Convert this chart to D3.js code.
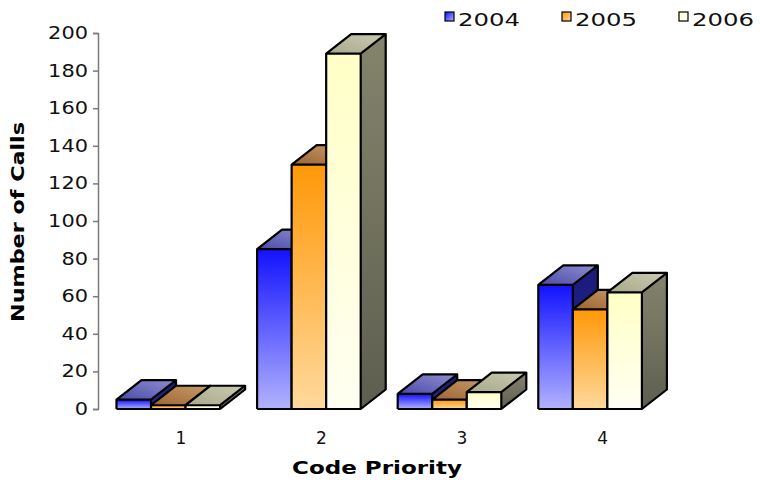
<!DOCTYPE html>
<html>
<head>
<meta charset="utf-8">
<script src="https://cdn.jsdelivr.net/npm/d3@7"></script>
<style>
  html, body { margin: 0; padding: 0; background: #fff; }
  svg { display: block; font-family: "DejaVu Sans", Verdana, sans-serif; }
</style>
</head>
<body>
<svg id="chart" width="760" height="480"></svg>
<script>
// Calls per code priority, by year
const categories = ["1", "2", "3", "4"];
const seriesNames = ["2004", "2005", "2006"];
const values2004 = [5, 85, 8, 66];
const values2005 = [2, 130, 5, 53];
const values2006 = [2, 189, 9, 62];
const yTickValues = [0, 20, 40, 60, 80, 100, 120, 140, 160, 180, 200];

const seriesValues = [values2004, values2005, values2006];

// Face colours for each series: front, top and side faces of the 3-D columns
const palette = [
  { front: ["#1212ff", "#b2b2ff"], top: ["#4a4aa8", "#8e8ed0"], side: ["#1a1a7a", "#2a2a9a"] },
  { front: ["#ff9808", "#ffd99c"], top: ["#9c6430", "#c89c6c"], side: ["#a85c10", "#c07c3c"] },
  { front: ["#ffffc6", "#fffff2"], top: ["#a8a88a", "#cacab2"], side: ["#84846c", "#5e5e50"] }
];

const svg = d3.select("#chart");
const defs = svg.append("defs");

// Oblique depth offset of the columns
const depthX = 25, depthY = -19.5;

const y = d3.scaleLinear().domain([0, 200]).range([409, 33]);
const x = d3.scaleBand().domain(categories).range([98, 660.4])
  .paddingInner(0.263).paddingOuter(0.1315);
const xs = d3.scaleBand().domain(seriesNames).range([0, x.bandwidth()]);

palette.forEach((p, i) => {
  const gf = defs.append("linearGradient").attr("id", "front" + i)
    .attr("x1", 0).attr("y1", 0).attr("x2", 0).attr("y2", 1);
  gf.append("stop").attr("offset", 0).attr("stop-color", p.front[0]);
  gf.append("stop").attr("offset", 1).attr("stop-color", p.front[1]);
  const gt = defs.append("linearGradient").attr("id", "top" + i)
    .attr("x1", 0).attr("y1", 1).attr("x2", 1).attr("y2", 0);
  gt.append("stop").attr("offset", 0).attr("stop-color", p.top[0]);
  gt.append("stop").attr("offset", 1).attr("stop-color", p.top[1]);
  const gs = defs.append("linearGradient").attr("id", "side" + i)
    .attr("x1", 0).attr("y1", 0).attr("x2", 0).attr("y2", 1);
  gs.append("stop").attr("offset", 0).attr("stop-color", p.side[0]);
  gs.append("stop").attr("offset", 1).attr("stop-color", p.side[1]);
  const gl = defs.append("linearGradient").attr("id", "legend" + i)
    .attr("x1", 0).attr("y1", 0).attr("x2", 1).attr("y2", 1);
  gl.append("stop").attr("offset", 0).attr("stop-color", p.front[0]);
  gl.append("stop").attr("offset", 1).attr("stop-color", p.front[1]);
});

// Value axis
const yAxis = d3.axisLeft(y).tickValues(yTickValues).tickSize(5).tickPadding(5);
const gy = svg.append("g").attr("transform", "translate(98,0)").call(yAxis);
gy.select(".domain").attr("stroke", "#7a7a7a").attr("stroke-width", 1.5);
gy.selectAll(".tick line").attr("stroke", "#7a7a7a").attr("stroke-width", 1.5);
gy.selectAll(".tick text")
  .attr("fill", "#111").attr("font-size", 17)
  .attr("font-family", "DejaVu Sans, Verdana, sans-serif")
  .each(function () {
    const t = d3.select(this);
    const n = t.text().length;
    t.attr("textLength", n * 13.3).attr("lengthAdjust", "spacingAndGlyphs");
  });

// Columns, drawn category by category, left to right so nearer faces overlap
const bars = svg.append("g");
categories.forEach((c, ci) => {
  seriesNames.forEach((s, si) => {
    const v = seriesValues[si][ci];
    const x0 = x(c) + xs(s);
    const x1 = x0 + xs.bandwidth();
    const yt = y(v), yb = y(0);
    const g = bars.append("g");
    const line = d3.line();
    // right side face
    g.append("path")
      .attr("d", line([[x1, yt], [x1 + depthX, yt + depthY], [x1 + depthX, yb + depthY], [x1, yb]]) + "Z")
      .attr("fill", `url(#side${si})`);
    // top face
    g.append("path")
      .attr("d", line([[x0, yt], [x0 + depthX, yt + depthY], [x1 + depthX, yt + depthY], [x1, yt]]) + "Z")
      .attr("fill", `url(#top${si})`);
    // front face
    g.append("rect")
      .attr("x", x0).attr("y", yt).attr("width", x1 - x0).attr("height", yb - yt)
      .attr("fill", `url(#front${si})`);
    // outlines
    g.append("path")
      .attr("d",
        line([[x0, yb], [x0, yt], [x0 + depthX, yt + depthY], [x1 + depthX, yt + depthY],
              [x1 + depthX, yb + depthY], [x1, yb], [x0, yb]]) +
        "M" + [x0, yt] + "L" + [x1, yt] + "L" + [x1 + depthX, yt + depthY] +
        "M" + [x1, yt] + "L" + [x1, yb])
      .attr("fill", "none").attr("stroke", "#000").attr("stroke-width", 2.2)
      .attr("stroke-linejoin", "round");
  });
});

// Category labels
svg.append("g").selectAll("text").data(categories).join("text")
  .attr("x", d => x(d) + x.bandwidth() / 2 + depthX / 2)
  .attr("y", 444)
  .attr("text-anchor", "middle")
  .attr("font-size", 17)
  .attr("fill", "#111")
  .text(d => d);

// Axis titles
svg.append("text")
  .attr("x", 377).attr("y", 474)
  .attr("text-anchor", "middle")
  .attr("font-size", 17).attr("font-weight", "bold")
  .attr("textLength", 170).attr("lengthAdjust", "spacingAndGlyphs")
  .text("Code Priority");

svg.append("text")
  .attr("transform", "translate(24,222) rotate(-90)")
  .attr("text-anchor", "middle")
  .attr("font-size", 17).attr("font-weight", "bold")
  .attr("textLength", 200).attr("lengthAdjust", "spacingAndGlyphs")
  .text("Number of Calls");

// Legend
const legend = svg.append("g");
const legendX = [445, 562, 679];
seriesNames.forEach((s, i) => {
  legend.append("rect")
    .attr("x", legendX[i]).attr("y", 12).attr("width", 9).attr("height", 9)
    .attr("fill", `url(#legend${i})`).attr("stroke", "#000").attr("stroke-width", 1.2);
  legend.append("text")
    .attr("x", legendX[i] + 13).attr("y", 26)
    .attr("font-size", 17)
    .attr("fill", "#111")
    .attr("textLength", 62).attr("lengthAdjust", "spacingAndGlyphs")
    .text(s);
});
</script>
</body>
</html>
